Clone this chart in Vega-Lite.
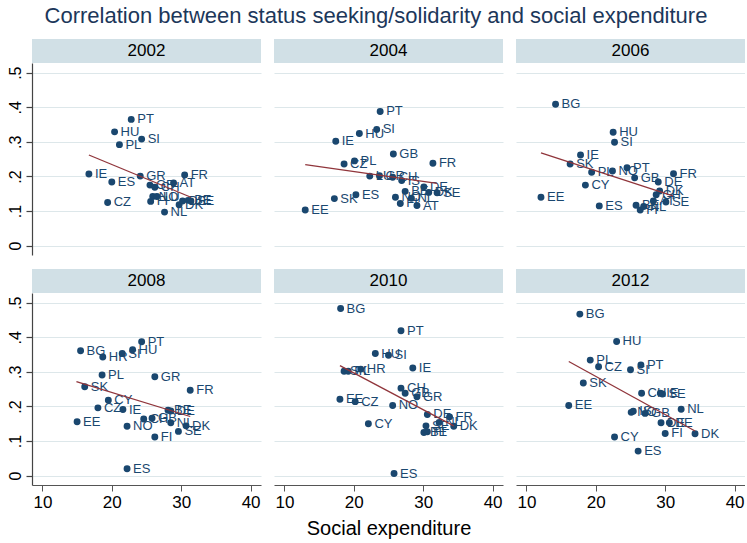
{
  "$schema": "https://vega.github.io/schema/vega-lite/v6.json",
  "background": "white",
  "padding": {"left": 7, "top": 5, "right": 0, "bottom": 4},
  "title": {"text": "Correlation between status seeking/solidarity and social expenditure", "fontSize": 22, "font": "Liberation Sans", "fontWeight": "normal", "color": "#1c375a", "anchor": "middle", "offset": 11},
  "config": {
    "font": "Liberation Sans",
    "view": {"stroke": null},
    "axis": {"labelFont": "Liberation Sans", "labelColor": "#000", "domainColor": "#555", "domainWidth": 1.2, "tickColor": "#555", "gridColor": "#dde7ea", "titleFont": "Liberation Sans", "titleFontWeight": "normal", "titleColor": "#000", "labelOverlap": false, "labelFlush": false}
  },
  "datasets": {
    "pts": [
      {"year": 2002, "c": "PT", "x": 22.8, "y": 0.365},
      {"year": 2002, "c": "HU", "x": 20.4, "y": 0.329},
      {"year": 2002, "c": "SI", "x": 24.3, "y": 0.308},
      {"year": 2002, "c": "PL", "x": 21.1, "y": 0.292},
      {"year": 2002, "c": "IE", "x": 16.7, "y": 0.207},
      {"year": 2002, "c": "ES", "x": 20.0, "y": 0.184},
      {"year": 2002, "c": "GR", "x": 24.1, "y": 0.201},
      {"year": 2002, "c": "FR", "x": 30.5, "y": 0.204},
      {"year": 2002, "c": "AT", "x": 28.9, "y": 0.181},
      {"year": 2002, "c": "CZ", "x": 19.4, "y": 0.125},
      {"year": 2002, "c": "NL", "x": 27.6, "y": 0.097},
      {"year": 2002, "c": "GB", "x": 25.5, "y": 0.175},
      {"year": 2002, "c": "CH", "x": 26.2, "y": 0.169},
      {"year": 2002, "c": "NO", "x": 25.9, "y": 0.142},
      {"year": 2002, "c": "LU", "x": 26.5, "y": 0.142},
      {"year": 2002, "c": "FI", "x": 25.6, "y": 0.128},
      {"year": 2002, "c": "DK", "x": 29.7, "y": 0.118},
      {"year": 2002, "c": "DE", "x": 30.2, "y": 0.129},
      {"year": 2002, "c": "BE", "x": 31.0, "y": 0.131},
      {"year": 2002, "c": "SE", "x": 31.4, "y": 0.129},

      {"year": 2004, "c": "PT", "x": 23.8, "y": 0.388},
      {"year": 2004, "c": "SI", "x": 23.3, "y": 0.336},
      {"year": 2004, "c": "HU", "x": 20.8, "y": 0.324},
      {"year": 2004, "c": "IE", "x": 17.4, "y": 0.302},
      {"year": 2004, "c": "GB", "x": 25.7, "y": 0.265},
      {"year": 2004, "c": "FR", "x": 31.4, "y": 0.238},
      {"year": 2004, "c": "PL", "x": 20.1, "y": 0.245},
      {"year": 2004, "c": "CZ", "x": 18.6, "y": 0.236},
      {"year": 2004, "c": "LU", "x": 22.3, "y": 0.201},
      {"year": 2004, "c": "GR", "x": 23.7, "y": 0.202},
      {"year": 2004, "c": "CH", "x": 25.6, "y": 0.198},
      {"year": 2004, "c": "IS", "x": 26.9, "y": 0.188},
      {"year": 2004, "c": "DE", "x": 30.1, "y": 0.170},
      {"year": 2004, "c": "BE", "x": 27.4, "y": 0.157},
      {"year": 2004, "c": "NO", "x": 26.0, "y": 0.140},
      {"year": 2004, "c": "FI", "x": 26.7, "y": 0.122},
      {"year": 2004, "c": "NL", "x": 28.3, "y": 0.137},
      {"year": 2004, "c": "AT", "x": 29.1, "y": 0.116},
      {"year": 2004, "c": "DK", "x": 30.8, "y": 0.154},
      {"year": 2004, "c": "SE", "x": 32.0, "y": 0.153},
      {"year": 2004, "c": "ES", "x": 20.3, "y": 0.147},
      {"year": 2004, "c": "SK", "x": 17.2, "y": 0.136},
      {"year": 2004, "c": "EE", "x": 13.0, "y": 0.103},

      {"year": 2006, "c": "BG", "x": 14.2, "y": 0.409},
      {"year": 2006, "c": "HU", "x": 22.5, "y": 0.328},
      {"year": 2006, "c": "SI", "x": 22.7, "y": 0.299},
      {"year": 2006, "c": "IE", "x": 17.8, "y": 0.262},
      {"year": 2006, "c": "SK", "x": 16.3, "y": 0.236},
      {"year": 2006, "c": "PL", "x": 19.4, "y": 0.212},
      {"year": 2006, "c": "NO", "x": 22.4, "y": 0.216},
      {"year": 2006, "c": "PT", "x": 24.5, "y": 0.225},
      {"year": 2006, "c": "GB", "x": 25.6, "y": 0.196},
      {"year": 2006, "c": "FR", "x": 31.2, "y": 0.208},
      {"year": 2006, "c": "DE", "x": 29.0, "y": 0.184},
      {"year": 2006, "c": "CY", "x": 18.5, "y": 0.175},
      {"year": 2006, "c": "EE", "x": 12.1, "y": 0.140},
      {"year": 2006, "c": "ES", "x": 20.5, "y": 0.115},
      {"year": 2006, "c": "DK", "x": 29.2, "y": 0.158},
      {"year": 2006, "c": "CH", "x": 28.7, "y": 0.147},
      {"year": 2006, "c": "AT", "x": 28.3, "y": 0.129},
      {"year": 2006, "c": "SE", "x": 30.1, "y": 0.126},
      {"year": 2006, "c": "BE", "x": 25.8, "y": 0.117},
      {"year": 2006, "c": "FI", "x": 26.4, "y": 0.103},
      {"year": 2006, "c": "NL", "x": 26.9, "y": 0.113},

      {"year": 2008, "c": "PT", "x": 24.3, "y": 0.387},
      {"year": 2008, "c": "BG", "x": 15.5, "y": 0.361},
      {"year": 2008, "c": "HU", "x": 23.0, "y": 0.364},
      {"year": 2008, "c": "SI", "x": 21.5, "y": 0.353},
      {"year": 2008, "c": "HR", "x": 18.7, "y": 0.343},
      {"year": 2008, "c": "PL", "x": 18.6, "y": 0.291},
      {"year": 2008, "c": "GR", "x": 26.2, "y": 0.286},
      {"year": 2008, "c": "SK", "x": 16.1, "y": 0.257},
      {"year": 2008, "c": "FR", "x": 31.3, "y": 0.247},
      {"year": 2008, "c": "CY", "x": 19.5, "y": 0.218},
      {"year": 2008, "c": "CZ", "x": 18.0, "y": 0.196},
      {"year": 2008, "c": "IE", "x": 21.6, "y": 0.191},
      {"year": 2008, "c": "BE", "x": 28.1, "y": 0.189},
      {"year": 2008, "c": "DE", "x": 28.5, "y": 0.187},
      {"year": 2008, "c": "EE", "x": 15.0, "y": 0.156},
      {"year": 2008, "c": "NO", "x": 22.2, "y": 0.143},
      {"year": 2008, "c": "CH", "x": 24.6, "y": 0.164},
      {"year": 2008, "c": "GB", "x": 25.8, "y": 0.166},
      {"year": 2008, "c": "NL", "x": 28.5, "y": 0.153},
      {"year": 2008, "c": "DK", "x": 30.7, "y": 0.144},
      {"year": 2008, "c": "SE", "x": 29.6, "y": 0.128},
      {"year": 2008, "c": "FI", "x": 26.2, "y": 0.112},
      {"year": 2008, "c": "ES", "x": 22.2, "y": 0.020},

      {"year": 2010, "c": "BG", "x": 18.1, "y": 0.483},
      {"year": 2010, "c": "PT", "x": 26.8, "y": 0.419},
      {"year": 2010, "c": "HU", "x": 23.1, "y": 0.353},
      {"year": 2010, "c": "SI", "x": 25.0, "y": 0.348},
      {"year": 2010, "c": "IE", "x": 28.5, "y": 0.311},
      {"year": 2010, "c": "HR", "x": 21.0, "y": 0.308},
      {"year": 2010, "c": "SK", "x": 18.6, "y": 0.302},
      {"year": 2010, "c": "PL", "x": 19.2, "y": 0.302},
      {"year": 2010, "c": "CH", "x": 26.8, "y": 0.253},
      {"year": 2010, "c": "GB", "x": 27.4, "y": 0.238},
      {"year": 2010, "c": "GR", "x": 29.1, "y": 0.228},
      {"year": 2010, "c": "EE", "x": 18.0, "y": 0.221},
      {"year": 2010, "c": "CZ", "x": 20.2, "y": 0.214},
      {"year": 2010, "c": "NO", "x": 25.6, "y": 0.203},
      {"year": 2010, "c": "DE", "x": 30.6, "y": 0.177},
      {"year": 2010, "c": "FR", "x": 33.8, "y": 0.170},
      {"year": 2010, "c": "NL", "x": 32.3, "y": 0.154},
      {"year": 2010, "c": "SE", "x": 30.4, "y": 0.144},
      {"year": 2010, "c": "DK", "x": 34.4, "y": 0.143},
      {"year": 2010, "c": "CY", "x": 22.1, "y": 0.150},
      {"year": 2010, "c": "BE", "x": 30.1, "y": 0.125},
      {"year": 2010, "c": "FI", "x": 30.6, "y": 0.127},
      {"year": 2010, "c": "ES", "x": 25.8, "y": 0.006},

      {"year": 2012, "c": "BG", "x": 17.7, "y": 0.467},
      {"year": 2012, "c": "HU", "x": 23.0, "y": 0.388},
      {"year": 2012, "c": "PL", "x": 19.2, "y": 0.334},
      {"year": 2012, "c": "CZ", "x": 20.4, "y": 0.315},
      {"year": 2012, "c": "PT", "x": 26.5, "y": 0.320},
      {"year": 2012, "c": "SI", "x": 25.0, "y": 0.306},
      {"year": 2012, "c": "SK", "x": 18.2, "y": 0.268},
      {"year": 2012, "c": "EE", "x": 16.1, "y": 0.203},
      {"year": 2012, "c": "CH", "x": 26.6, "y": 0.238},
      {"year": 2012, "c": "IE", "x": 29.3, "y": 0.238},
      {"year": 2012, "c": "SE", "x": 29.6, "y": 0.236},
      {"year": 2012, "c": "NL", "x": 32.3, "y": 0.192},
      {"year": 2012, "c": "NO", "x": 25.1, "y": 0.183},
      {"year": 2012, "c": "IS", "x": 25.4, "y": 0.186},
      {"year": 2012, "c": "GB", "x": 27.1, "y": 0.180},
      {"year": 2012, "c": "DE", "x": 29.4, "y": 0.153},
      {"year": 2012, "c": "BE", "x": 30.6, "y": 0.153},
      {"year": 2012, "c": "FI", "x": 30.0, "y": 0.122},
      {"year": 2012, "c": "DK", "x": 34.3, "y": 0.121},
      {"year": 2012, "c": "CY", "x": 22.7, "y": 0.112},
      {"year": 2012, "c": "ES", "x": 26.1, "y": 0.071}
    ],
    "fit": [
      {"year": 2002, "x": 16.7, "y": 0.262}, {"year": 2002, "x": 31.4, "y": 0.140},
      {"year": 2004, "x": 13.0, "y": 0.234}, {"year": 2004, "x": 32.0, "y": 0.180},
      {"year": 2006, "x": 12.1, "y": 0.268}, {"year": 2006, "x": 31.1, "y": 0.144},
      {"year": 2008, "x": 14.9, "y": 0.272}, {"year": 2008, "x": 31.3, "y": 0.171},
      {"year": 2010, "x": 18.0, "y": 0.318}, {"year": 2010, "x": 34.4, "y": 0.144},
      {"year": 2012, "x": 16.1, "y": 0.330}, {"year": 2012, "x": 34.3, "y": 0.129}
    ]
  },
  "spacing": 14,
  "vconcat": [
    {
      "spacing": 13,
      "hconcat": [
        {
          "spacing": 0,
          "vconcat": [
            {"data": {"values": [{"year": "2002"}]}, "width": 229, "height": 24, "view": {"fill": "#d1e0e6", "stroke": null}, "mark": {"type": "text", "fontSize": 17, "color": "#000"}, "encoding": {"text": {"field": "year"}}},
            {"width": 229, "height": 192, "data": {"name": "pts"}, "transform": [{"filter": "datum.year == 2002"}],
             "encoding": {"x": {"field": "x", "type": "quantitative", "scale": {"domain": [8.5, 41.5], "nice": false, "zero": false}, "axis": null},
                          "y": {"field": "y", "type": "quantitative", "scale": {"domain": [-0.027, 0.528], "nice": false, "zero": false},
                                "axis": {"values": [0, 0.1, 0.2, 0.3, 0.4, 0.5], "labelExpr": "datum.value == 0 ? '0' : replace(format(datum.value, '.1f'), '0.', '.')", "labelAngle": 270, "labelFontSize": 16, "labelOverlap": false, "domain": true, "ticks": true, "tickSize": 6, "tickWidth": 1.2, "tickColor": "#444", "domainColor": "#444", "labelPadding": 3, "title": null, "grid": true}}},
             "layer": [
              {"mark": {"type": "circle", "size": 48, "color": "#1a476f", "opacity": 1}},
              {"mark": {"type": "text", "align": "left", "baseline": "middle", "dx": 6, "fontSize": 13, "color": "#1a476f"}, "encoding": {"text": {"field": "c"}}},
              {"data": {"name": "fit"}, "transform": [{"filter": "datum.year == 2002"}], "mark": {"type": "line", "color": "#90353b", "strokeWidth": 1.3}}
            ]}
          ]
        },
        {
          "spacing": 0,
          "vconcat": [
            {"data": {"values": [{"year": "2004"}]}, "width": 229, "height": 24, "view": {"fill": "#d1e0e6", "stroke": null}, "mark": {"type": "text", "fontSize": 17, "color": "#000"}, "encoding": {"text": {"field": "year"}}},
            {"width": 229, "height": 192, "data": {"name": "pts"}, "transform": [{"filter": "datum.year == 2004"}],
             "encoding": {"x": {"field": "x", "type": "quantitative", "scale": {"domain": [8.5, 41.5], "nice": false, "zero": false}, "axis": null},
                          "y": {"field": "y", "type": "quantitative", "scale": {"domain": [-0.027, 0.528], "nice": false, "zero": false},
                                "axis": {"values": [0, 0.1, 0.2, 0.3, 0.4, 0.5], "labels": false, "ticks": false, "domain": false, "title": null, "grid": true}}},
             "layer": [
              {"mark": {"type": "circle", "size": 48, "color": "#1a476f", "opacity": 1}},
              {"mark": {"type": "text", "align": "left", "baseline": "middle", "dx": 6, "fontSize": 13, "color": "#1a476f"}, "encoding": {"text": {"field": "c"}}},
              {"data": {"name": "fit"}, "transform": [{"filter": "datum.year == 2004"}], "mark": {"type": "line", "color": "#90353b", "strokeWidth": 1.3}}
            ]}
          ]
        },
        {
          "spacing": 0,
          "vconcat": [
            {"data": {"values": [{"year": "2006"}]}, "width": 229, "height": 24, "view": {"fill": "#d1e0e6", "stroke": null}, "mark": {"type": "text", "fontSize": 17, "color": "#000"}, "encoding": {"text": {"field": "year"}}},
            {"width": 229, "height": 192, "data": {"name": "pts"}, "transform": [{"filter": "datum.year == 2006"}],
             "encoding": {"x": {"field": "x", "type": "quantitative", "scale": {"domain": [8.5, 41.5], "nice": false, "zero": false}, "axis": null},
                          "y": {"field": "y", "type": "quantitative", "scale": {"domain": [-0.027, 0.528], "nice": false, "zero": false},
                                "axis": {"values": [0, 0.1, 0.2, 0.3, 0.4, 0.5], "labels": false, "ticks": false, "domain": false, "title": null, "grid": true}}},
             "layer": [
              {"mark": {"type": "circle", "size": 48, "color": "#1a476f", "opacity": 1}},
              {"mark": {"type": "text", "align": "left", "baseline": "middle", "dx": 6, "fontSize": 13, "color": "#1a476f"}, "encoding": {"text": {"field": "c"}}},
              {"data": {"name": "fit"}, "transform": [{"filter": "datum.year == 2006"}], "mark": {"type": "line", "color": "#90353b", "strokeWidth": 1.3}}
            ]}
          ]
        }
      ]
    },
    {
      "spacing": 13,
      "hconcat": [
        {
          "spacing": 0,
          "vconcat": [
            {"data": {"values": [{"year": "2008"}]}, "width": 229, "height": 24, "view": {"fill": "#d1e0e6", "stroke": null}, "mark": {"type": "text", "fontSize": 17, "color": "#000"}, "encoding": {"text": {"field": "year"}}},
            {"width": 229, "height": 192, "data": {"name": "pts"}, "transform": [{"filter": "datum.year == 2008"}],
             "encoding": {"x": {"field": "x", "type": "quantitative", "scale": {"domain": [8.5, 41.5], "nice": false, "zero": false},
                                "axis": {"values": [10, 20, 30, 40], "labelFontSize": 17, "tickSize": 6, "labelPadding": 3, "title": null, "grid": false}},
                          "y": {"field": "y", "type": "quantitative", "scale": {"domain": [-0.027, 0.528], "nice": false, "zero": false},
                                "axis": {"values": [0, 0.1, 0.2, 0.3, 0.4, 0.5], "labelExpr": "datum.value == 0 ? '0' : replace(format(datum.value, '.1f'), '0.', '.')", "labelAngle": 270, "labelFontSize": 16, "labelOverlap": false, "domain": true, "ticks": true, "tickSize": 6, "tickWidth": 1.2, "tickColor": "#444", "domainColor": "#444", "labelPadding": 3, "title": null, "grid": true}}},
             "layer": [
              {"mark": {"type": "circle", "size": 48, "color": "#1a476f", "opacity": 1}},
              {"mark": {"type": "text", "align": "left", "baseline": "middle", "dx": 6, "fontSize": 13, "color": "#1a476f"}, "encoding": {"text": {"field": "c"}}},
              {"data": {"name": "fit"}, "transform": [{"filter": "datum.year == 2008"}], "mark": {"type": "line", "color": "#90353b", "strokeWidth": 1.3}}
            ]}
          ]
        },
        {
          "spacing": 0,
          "vconcat": [
            {"data": {"values": [{"year": "2010"}]}, "width": 229, "height": 24, "view": {"fill": "#d1e0e6", "stroke": null}, "mark": {"type": "text", "fontSize": 17, "color": "#000"}, "encoding": {"text": {"field": "year"}}},
            {"width": 229, "height": 192, "data": {"name": "pts"}, "transform": [{"filter": "datum.year == 2010"}],
             "encoding": {"x": {"field": "x", "type": "quantitative", "scale": {"domain": [8.5, 41.5], "nice": false, "zero": false},
                                "axis": {"values": [10, 20, 30, 40], "labelFontSize": 17, "tickSize": 6, "labelPadding": 3, "title": "Social expenditure", "titleFontSize": 20, "titlePadding": 8, "grid": false}},
                          "y": {"field": "y", "type": "quantitative", "scale": {"domain": [-0.027, 0.528], "nice": false, "zero": false},
                                "axis": {"values": [0, 0.1, 0.2, 0.3, 0.4, 0.5], "labels": false, "ticks": false, "domain": false, "title": null, "grid": true}}},
             "layer": [
              {"mark": {"type": "circle", "size": 48, "color": "#1a476f", "opacity": 1}},
              {"mark": {"type": "text", "align": "left", "baseline": "middle", "dx": 6, "fontSize": 13, "color": "#1a476f"}, "encoding": {"text": {"field": "c"}}},
              {"data": {"name": "fit"}, "transform": [{"filter": "datum.year == 2010"}], "mark": {"type": "line", "color": "#90353b", "strokeWidth": 1.3}}
            ]}
          ]
        },
        {
          "spacing": 0,
          "vconcat": [
            {"data": {"values": [{"year": "2012"}]}, "width": 229, "height": 24, "view": {"fill": "#d1e0e6", "stroke": null}, "mark": {"type": "text", "fontSize": 17, "color": "#000"}, "encoding": {"text": {"field": "year"}}},
            {"width": 229, "height": 192, "data": {"name": "pts"}, "transform": [{"filter": "datum.year == 2012"}],
             "encoding": {"x": {"field": "x", "type": "quantitative", "scale": {"domain": [8.5, 41.5], "nice": false, "zero": false},
                                "axis": {"values": [10, 20, 30, 40], "labelFontSize": 17, "tickSize": 6, "labelPadding": 3, "title": null, "grid": false}},
                          "y": {"field": "y", "type": "quantitative", "scale": {"domain": [-0.027, 0.528], "nice": false, "zero": false},
                                "axis": {"values": [0, 0.1, 0.2, 0.3, 0.4, 0.5], "labels": false, "ticks": false, "domain": false, "title": null, "grid": true}}},
             "layer": [
              {"mark": {"type": "circle", "size": 48, "color": "#1a476f", "opacity": 1}},
              {"mark": {"type": "text", "align": "left", "baseline": "middle", "dx": 6, "fontSize": 13, "color": "#1a476f"}, "encoding": {"text": {"field": "c"}}},
              {"data": {"name": "fit"}, "transform": [{"filter": "datum.year == 2012"}], "mark": {"type": "line", "color": "#90353b", "strokeWidth": 1.3}}
            ]}
          ]
        }
      ]
    }
  ]
}
